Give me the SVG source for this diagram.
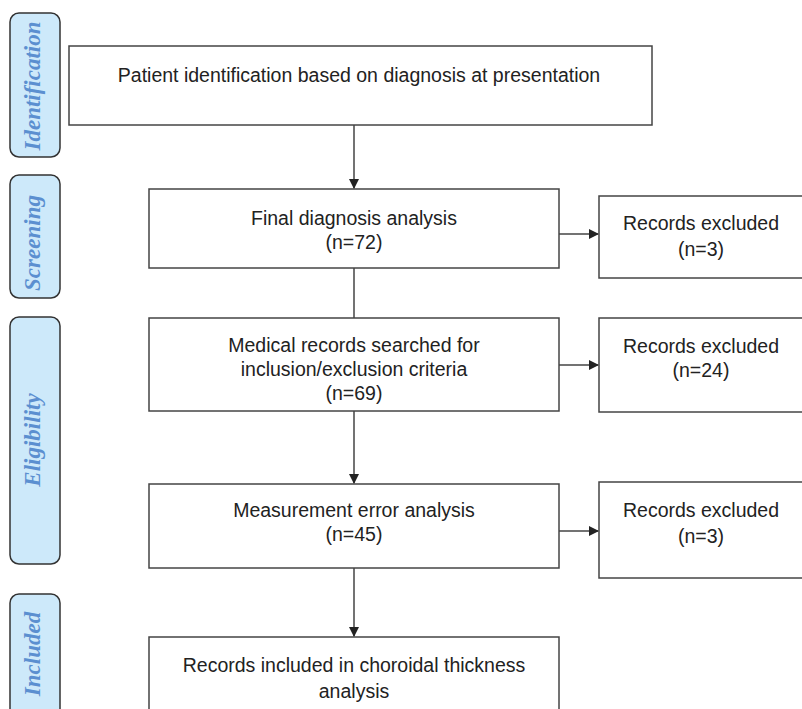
<svg xmlns="http://www.w3.org/2000/svg" width="802" height="709" viewBox="0 0 802 709">
<style>
.bg{fill:#fff}
.pill{fill:#cde9fa;stroke:#333;stroke-width:1.5}
.pt{font-family:"Liberation Serif",serif;font-style:italic;font-weight:bold;font-size:23px;fill:#5b8fd0;text-anchor:middle}
.box{fill:#fff;stroke:#444;stroke-width:1.5}
.t{font-family:"Liberation Sans",Arial,sans-serif;font-size:19.5px;fill:#222;text-anchor:middle}
.c{stroke:#444;stroke-width:1.5;fill:none}
</style>
<defs>
<marker id="ah" markerWidth="10" markerHeight="10" refX="9" refY="5" orient="auto" markerUnits="userSpaceOnUse">
<path d="M0,0 L10,5 L0,10 Z" fill="#222"/>
</marker>
</defs>
<rect class="bg" width="802" height="709"/>
<g id="stage-identification">
<rect class="pill" x="10" y="13" width="50" height="144" rx="9"/>
<text class="pt" transform="translate(40,86) rotate(-90)">Identification</text>
</g>
<g id="stage-screening">
<rect class="pill" x="10" y="175" width="50" height="123" rx="9"/>
<text class="pt" transform="translate(40,243) rotate(-90)">Screening</text>
</g>
<g id="stage-eligibility">
<rect class="pill" x="10" y="317" width="50" height="247" rx="9"/>
<text class="pt" transform="translate(40,440) rotate(-90)">Eligibility</text>
</g>
<g id="stage-included">
<rect class="pill" x="10" y="594" width="50" height="130" rx="9"/>
<text class="pt" transform="translate(40,654) rotate(-90)">Included</text>
</g>
<g id="n1">
<rect class="box" x="69" y="46" width="583" height="79"/>
<text class="t" x="359" y="82">Patient identification based on diagnosis at presentation</text>
</g>
<g id="n2">
<rect class="box" x="149" y="189" width="410" height="79"/>
<text class="t" x="354" y="225">Final diagnosis analysis</text>
<text class="t" x="354" y="249">(n=72)</text>
</g>
<g id="x1">
<rect class="box" x="599" y="196" width="215" height="82"/>
<text class="t" x="701" y="230">Records excluded</text>
<text class="t" x="701" y="256">(n=3)</text>
</g>
<g id="n3">
<rect class="box" x="149" y="318" width="410" height="93"/>
<text class="t" x="354" y="352">Medical records searched for</text>
<text class="t" x="354" y="376">inclusion/exclusion criteria</text>
<text class="t" x="354" y="400">(n=69)</text>
</g>
<g id="x2">
<rect class="box" x="599" y="318" width="215" height="94"/>
<text class="t" x="701" y="353">Records excluded</text>
<text class="t" x="701" y="377">(n=24)</text>
</g>
<g id="n4">
<rect class="box" x="149" y="484" width="410" height="84"/>
<text class="t" x="354" y="517">Measurement error analysis</text>
<text class="t" x="354" y="541">(n=45)</text>
</g>
<g id="x3">
<rect class="box" x="599" y="482" width="215" height="96"/>
<text class="t" x="701" y="517">Records excluded</text>
<text class="t" x="701" y="543">(n=3)</text>
</g>
<g id="n5">
<rect class="box" x="149" y="637" width="410" height="90"/>
<text class="t" x="354" y="672">Records included in choroidal thickness</text>
<text class="t" x="354" y="698">analysis</text>
</g>
<g id="connectors">
<line class="c" x1="354" y1="125" x2="354" y2="188" marker-end="url(#ah)"/>
<line class="c" x1="354" y1="268" x2="354" y2="318"/>
<line class="c" x1="354" y1="411" x2="354" y2="483" marker-end="url(#ah)"/>
<line class="c" x1="354" y1="568" x2="354" y2="636" marker-end="url(#ah)"/>
<line class="c" x1="559" y1="234" x2="598" y2="234" marker-end="url(#ah)"/>
<line class="c" x1="559" y1="365" x2="598" y2="365" marker-end="url(#ah)"/>
<line class="c" x1="559" y1="531" x2="598" y2="531" marker-end="url(#ah)"/>
</g>
</svg>
